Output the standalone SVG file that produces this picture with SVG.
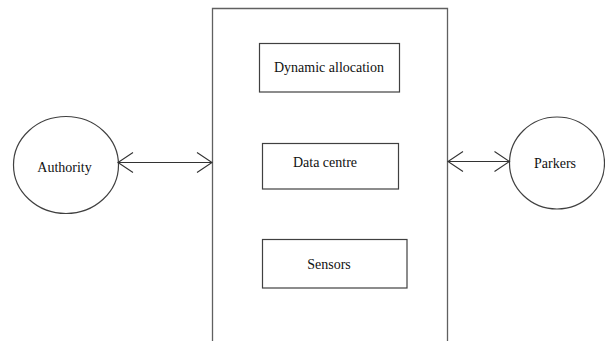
<svg xmlns="http://www.w3.org/2000/svg" width="605" height="341" viewBox="0 0 605 341">
<style>
.node-shape{fill:#ffffff;stroke:#404040;stroke-width:1.2}
.outer{fill:none;stroke:#606060;stroke-width:1.3}
.lbl{font-size:14px;fill:#111111;text-anchor:middle}
.conn{stroke:#333333;stroke-width:1.2;fill:none;marker-start:url(#arrS);marker-end:url(#arrE)}
</style>
<defs>
<marker id="arrE" markerUnits="userSpaceOnUse" markerWidth="20" markerHeight="24" refX="15" refY="10" orient="auto" overflow="visible">
<path d="M0,0 L15,10 L0,20" fill="none" stroke="#333333" stroke-width="1.1"/>
</marker>
<marker id="arrS" markerUnits="userSpaceOnUse" markerWidth="20" markerHeight="24" refX="0" refY="10" orient="auto" overflow="visible">
<path d="M15,0 L0,10 L15,20" fill="none" stroke="#333333" stroke-width="1.1"/>
</marker>
</defs>
<rect width="605" height="341" fill="#ffffff"/>
<g id="system">
<path class="outer" d="M212.5,345 L212.5,8.5 L447.5,8.5 L447.5,345"/>
</g>
<g font-family="'Liberation Serif', 'DejaVu Serif', serif">
<g id="dynamic-allocation">
<rect class="node-shape" x="259.5" y="43.5" width="140" height="48.5"/>
<text class="lbl" x="329" y="72">Dynamic allocation</text>
</g>
<g id="data-centre">
<rect class="node-shape" x="262.5" y="143.5" width="136" height="45.5"/>
<text class="lbl" x="325" y="167">Data centre</text>
</g>
<g id="sensors">
<rect class="node-shape" x="262.5" y="239.5" width="144.5" height="48.5"/>
<text class="lbl" x="329" y="268.5">Sensors</text>
</g>
<g id="authority">
<ellipse class="node-shape" cx="66" cy="165" rx="52.5" ry="48.5"/>
<text class="lbl" x="64.5" y="171.5">Authority</text>
</g>
<g id="parkers">
<ellipse class="node-shape" cx="557" cy="163" rx="47.5" ry="46"/>
<text class="lbl" x="555" y="168">Parkers</text>
</g>
</g>
<g id="connectors">
<line class="conn" x1="118" y1="162.5" x2="212" y2="162.5"/>
<line class="conn" x1="448" y1="161.5" x2="509.5" y2="161.5"/>
</g>
</svg>
